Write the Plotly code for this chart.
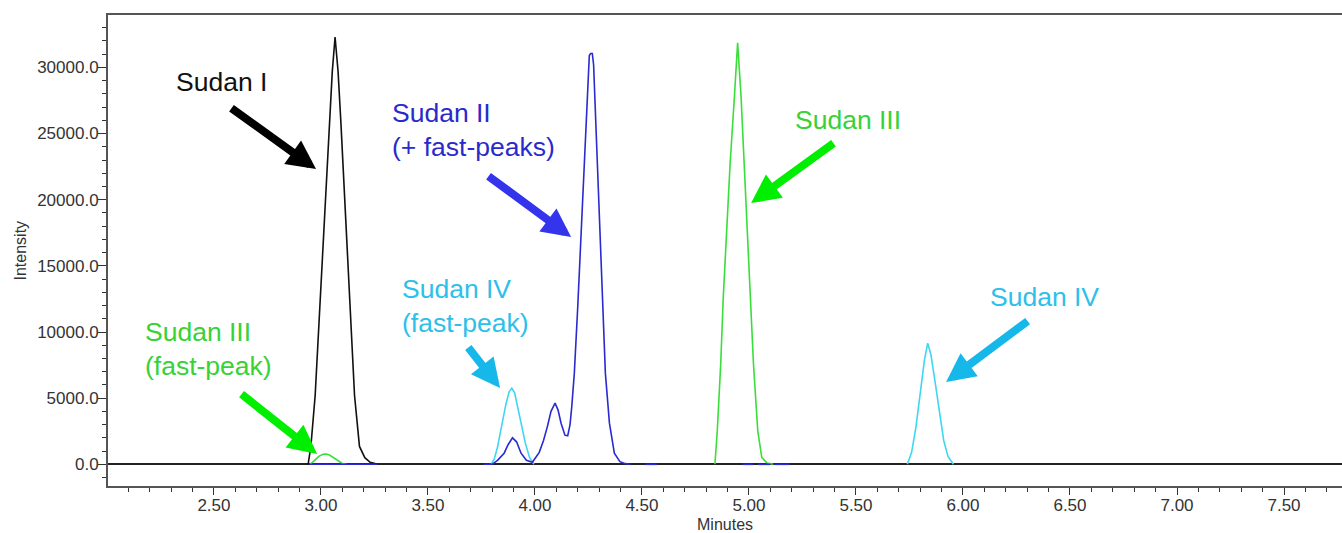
import plotly.graph_objects as go

# ---------------- data ----------------
# Sudan I (black)
sudan1_t = [2.940, 2.953, 2.973, 2.990, 3.010, 3.026, 3.041, 3.053, 3.066, 3.080,
            3.093, 3.109, 3.125, 3.141, 3.157, 3.180, 3.205, 3.230, 3.265]
sudan1_i = [0, 1350, 5200, 10400, 15500, 20700, 25900, 29700, 32300, 29700,
            25900, 20700, 15500, 10400, 5200, 1350, 500, 150, 0]

# Sudan II (blue, with fast peaks); None = gap in the trace
sudan2_t = [2.945, 3.265, None,
            3.760, 3.800, 3.825, 3.856, 3.875, 3.895, 3.914, 3.935, 3.960, 3.988,
            4.020, 4.040, 4.058, 4.075, 4.094, 4.108, 4.122, 4.140, 4.153, 4.164,
            4.172, 4.184, 4.200, 4.215, 4.231, 4.243, 4.254, 4.260, 4.268, 4.274,
            4.281, 4.293, 4.306, 4.316, 4.329, 4.348, 4.371, 4.397, 4.422, 4.447, None,
            4.515, 4.570, None, 4.970, 5.020, None, 5.040, 5.100, None, 5.120, 5.190]
sudan2_i = [0, 0, None,
            0, 0, 300, 840, 1500, 2000, 1700, 840, 300, 150,
            900, 1800, 2850, 4000, 4620, 4100, 3100, 2200, 2150, 3000,
            4365, 6890, 11930, 16970, 22020, 27060, 30900, 31050, 31050, 30200,
            27060, 22020, 16970, 11930, 6890, 3110, 840, 200, 50, 0, None,
            0, 0, None, 0, 0, None, 0, 0, None, 0, 0]

# Sudan III (green): fast peak + main peak
sudan3_t = [2.950, 2.970, 2.990, 3.010, 3.025, 3.040, 3.060, 3.080, 3.100, 3.120, None,
            4.841, 4.852, 4.868, 4.880, 4.896, 4.912, 4.932, 4.947, 4.963, 4.978,
            4.993, 5.005, 5.021, 5.041, 5.060, 5.085, 5.114]
sudan3_i = [0, 300, 600, 760, 780, 700, 480, 220, 60, 0, None,
            0, 2550, 7600, 12650, 17700, 22750, 27800, 31850, 27800, 22750,
            17700, 12650, 7600, 2550, 500, 100, 0]

# Sudan IV (cyan): fast peak + main peak
sudan4_t = [3.795, 3.810, 3.825, 3.845, 3.865, 3.880, 3.892, 3.905, 3.920, 3.935,
            3.955, 3.975, 3.995, None,
            5.740, 5.760, 5.780, 5.800, 5.820, 5.835, 5.850, 5.870, 5.890, 5.910,
            5.930, 5.955]
sudan4_i = [0, 400, 1300, 2900, 4600, 5500, 5750, 5400, 4300, 3200,
            1600, 500, 0, None,
            0, 900, 2800, 5400, 7900, 9150, 8300, 6200, 3800, 1800,
            600, 0]

x_tick_vals = [2.5, 3.0, 3.5, 4.0, 4.5, 5.0, 5.5, 6.0, 6.5, 7.0, 7.5]
y_tick_vals = [0, 5000, 10000, 15000, 20000, 25000, 30000]

FONT = "Liberation Sans, Arial, sans-serif"

fig = go.Figure()
series = [
    (sudan1_t, sudan1_i, "#111111", "Sudan I"),
    (sudan4_t, sudan4_i, "#3fd6f2", "Sudan IV"),
    (sudan3_t, sudan3_i, "#3ade3a", "Sudan III"),
    (sudan2_t, sudan2_i, "#2a2ad0", "Sudan II"),
]
for t, i, c, n in series:
    fig.add_trace(go.Scatter(x=t, y=i, mode="lines", name=n,
                             line=dict(color=c, width=1.6), connectgaps=False))

# ---------------- labels and arrows ----------------
labels = [
    # text, x, y, colour
    ("Sudan I", 2.315, 28890, "#111111"),
    ("Sudan II<br>(+ fast-peaks)", 3.323, 25275, "#2a2acb"),
    ("Sudan III", 5.206, 26020, "#36d236"),
    ("Sudan IV", 6.117, 12640, "#2cc0ea"),
    ("Sudan IV<br>(fast-peak)", 3.369, 12000, "#2cc0ea"),
    ("Sudan III<br>(fast-peak)", 2.169, 8713, "#36d236"),
]
for txt, x, y, c in labels:
    fig.add_annotation(x=x, y=y, xref="x", yref="y", text=txt, showarrow=False,
                       xanchor="left", yanchor="middle", align="left",
                       font=dict(family=FONT, size=26.5, color=c))

arrows = [
    # tail x, tail y, head x, head y, colour
    (2.575, 27000, 2.977, 22315, "#000000"),
    (3.776, 21862, 4.169, 17176, "#3434ec"),
    (5.402, 24356, 5.010, 19746, "#00ee00"),
    (6.309, 10905, 5.921, 6219, "#16b8ea"),
    (3.683, 8940, 3.837, 5766, "#16b8ea"),
    (2.622, 5388, 2.982, 778, "#00ee00"),
]
for ax, ay, hx, hy, c in arrows:
    fig.add_annotation(x=hx, y=hy, ax=ax, ay=ay, xref="x", yref="y",
                       axref="x", ayref="y", text="", showarrow=True,
                       arrowhead=2, arrowwidth=8, arrowsize=0.72, arrowcolor=c,
                       standoff=0)

# axis titles
fig.add_annotation(xref="paper", yref="paper", x=0, y=0.5, xshift=-88,
                   text="Intensity", textangle=-90, showarrow=False,
                   xanchor="center", yanchor="middle",
                   font=dict(family=FONT, size=16, color="#333333"))
fig.add_annotation(xref="paper", yref="paper", x=0.5, y=0, yshift=-38,
                   text="Minutes", showarrow=False, xanchor="center", yanchor="middle",
                   font=dict(family=FONT, size=16, color="#333333"))

fig.update_xaxes(range=[2.005, 7.771], tickvals=x_tick_vals, tickformat=".2f",
                 ticks="outside", ticklen=7, tickwidth=1.2, tickcolor="#333333",
                 ticklabelstandoff=-4,
                 minor=dict(dtick=0.1, tick0=0, ticks="outside", ticklen=4,
                            tickwidth=1.2, tickcolor="#333333"),
                 showline=True, linecolor="#555555", linewidth=2, mirror=True,
                 showgrid=False, zeroline=False,
                 tickfont=dict(family=FONT, size=17, color="#333333"))
fig.update_yaxes(range=[-1640, 33960], tickvals=y_tick_vals, tickformat=".1f",
                 ticks="outside", ticklen=8, tickwidth=1.2, tickcolor="#333333",
                 ticklabelstandoff=-4,
                 minor=dict(dtick=1000, tick0=0, ticks="outside", ticklen=4,
                            tickwidth=1.2, tickcolor="#333333"),
                 showline=True, linecolor="#555555", linewidth=2, mirror=False,
                 showgrid=False, zeroline=True, zerolinecolor="#222222",
                 zerolinewidth=2,
                 tickfont=dict(family=FONT, size=17, color="#333333"))

fig.update_layout(width=1342, height=533, showlegend=False,
                  margin=dict(l=108, r=0, t=15, b=47),
                  plot_bgcolor="white", paper_bgcolor="white")

fig.write_html("out.html",
               config={"displayModeBar": False},
               post_script="document.body.style.margin='0px';"
                           "document.body.style.overflow='hidden';")
